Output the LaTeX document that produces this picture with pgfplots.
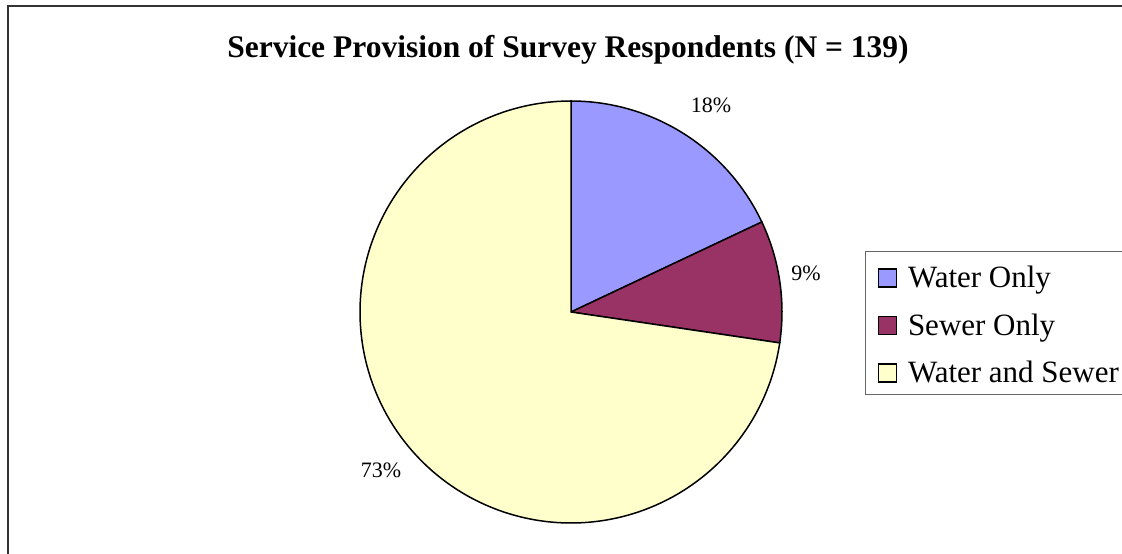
\documentclass[border=0pt]{standalone}
\usepackage{fontspec}
\setmainfont{Liberation Serif}
\usepackage{pgfplots}
\pgfplotsset{compat=1.18}
\definecolor{wonly}{HTML}{9999FF}
\definecolor{sonly}{HTML}{993366}
\definecolor{wands}{HTML}{FFFFCC}
\definecolor{frame}{HTML}{333333}
\definecolor{lgdframe}{HTML}{666666}
% counts: Water Only 25, Sewer Only 13, Water and Sewer 101 (N = 139)
% angles (deg, clockwise from 12 o'clock): 90 -> 25.25 -> -8.42 -> -270
\begin{document}
\begin{tikzpicture}
\begin{axis}[
  at={(0pt,0pt)}, anchor=south west,
  width=1122pt, height=554pt, scale only axis,
  xmin=0, xmax=1122, ymin=0, ymax=554,
  hide axis, clip=false,
  legend style={at={(axis cs:865,303)}, anchor=north west,
    draw=lgdframe, line width=1.2pt, fill=white,
    font=\fontsize{31}{31}\selectfont,
    inner xsep=12pt, inner ysep=9pt,
    row sep=17.5pt,
    nodes={inner xsep=0pt, inner ysep=0pt, text height=27pt, text depth=3pt},
    /tikz/every odd column/.append style={column sep=11pt}},
  legend cell align=left,
  legend image code/.code={\draw[#1, draw=black, line width=1.4pt] (0pt,-11.5pt) rectangle (18pt,6.5pt);},
]
\addplot[fill=wonly, draw=black, line width=1.5pt, domain=25.25:90, samples=90, variable=\t]
  ({571+211*cos(t)},{242+211*sin(t)}) -- (axis cs:571,242) -- cycle;
\addlegendentry{Water Only}
\addplot[fill=sonly, draw=black, line width=1.5pt, domain=-8.42:25.25, samples=60, variable=\t]
  ({571+211*cos(t)},{242+211*sin(t)}) -- (axis cs:571,242) -- cycle;
\addlegendentry{Sewer Only}
\addplot[fill=wands, draw=black, line width=1.5pt, domain=-270:-8.42, samples=240, variable=\t]
  ({571+211*cos(t)},{242+211*sin(t)}) -- (axis cs:571,242) -- cycle;
\addlegendentry{Water and Sewer}
\draw[frame, line width=2pt] (axis cs:7.5,-30) -- (axis cs:7.5,547.5) -- (axis cs:1160,547.5);
\node[font=\bfseries\fontsize{31.5}{32}\selectfont, anchor=base] at (axis cs:568,496) {Service Provision of Survey Respondents (N = 139)};
\node[font=\fontsize{22}{24}\selectfont, anchor=base] at (axis cs:711,441) {18\%};
\node[font=\fontsize{22}{24}\selectfont] at (axis cs:806,281) {9\%};
\node[font=\fontsize{22}{24}\selectfont] at (axis cs:381,84) {73\%};
\end{axis}
\pgfresetboundingbox
\useasboundingbox (0pt,0pt) rectangle (1122pt,554pt);
\end{tikzpicture}
\end{document}
